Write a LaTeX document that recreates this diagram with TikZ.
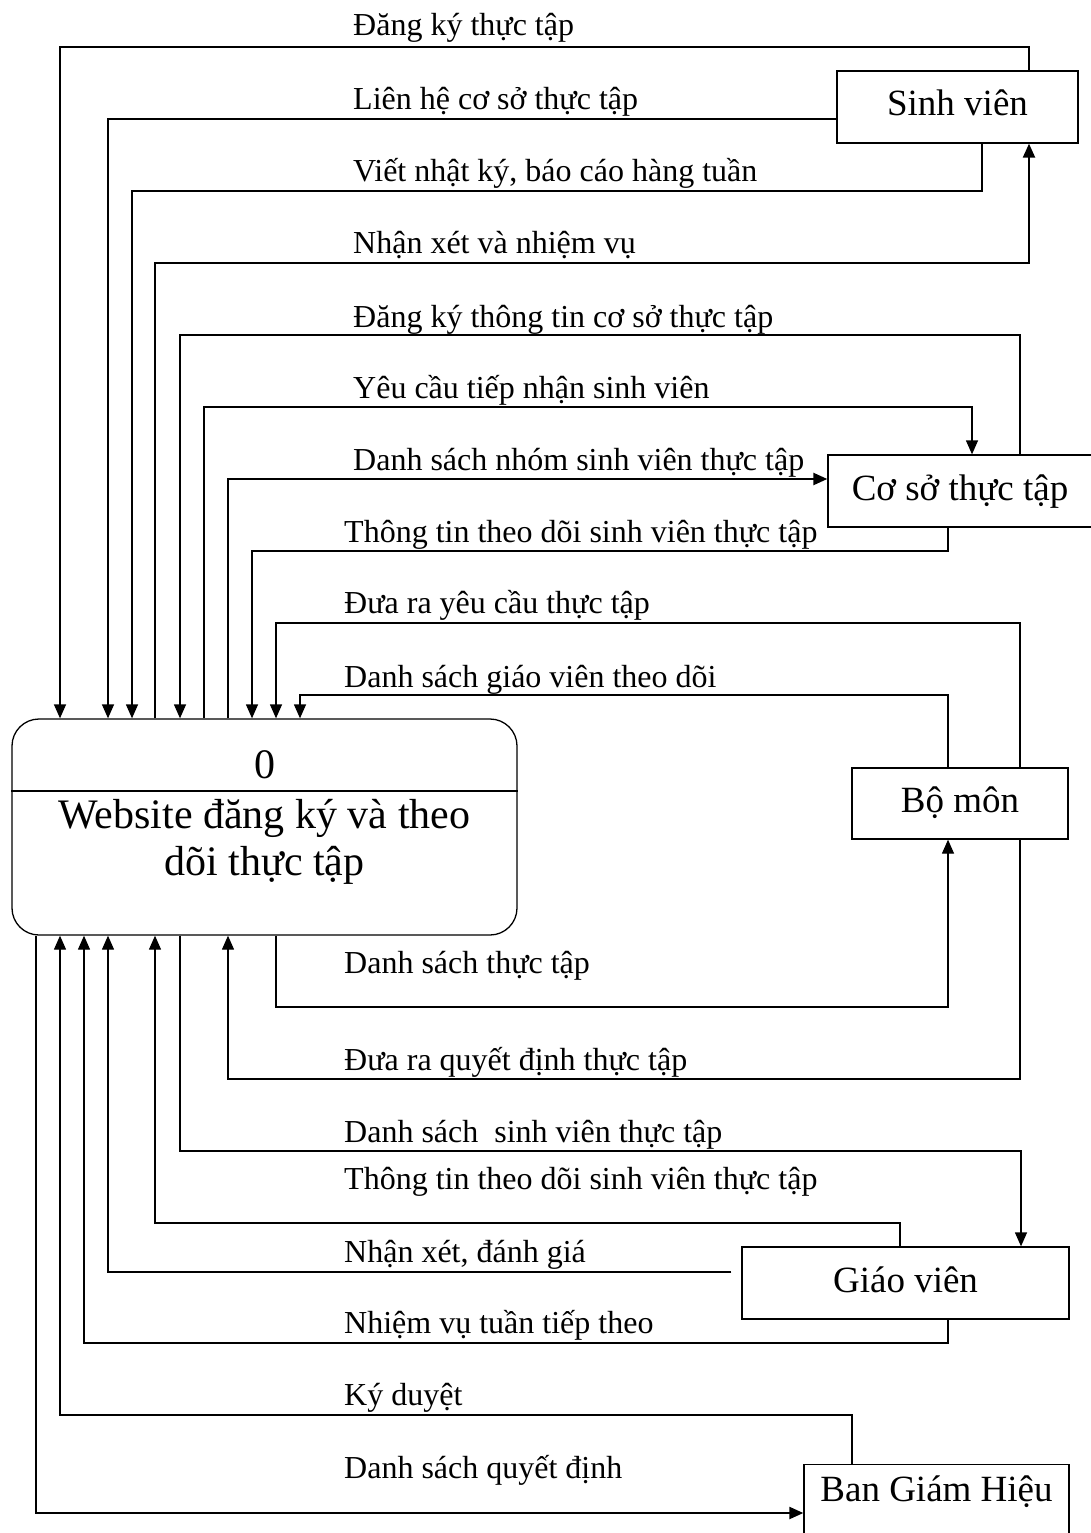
\documentclass[tikz,border=0pt]{standalone}
\usepackage{fontspec}
\setmainfont{Liberation Serif}
\usetikzlibrary{arrows.meta,calc}
\begin{document}
\begin{tikzpicture}[x=1pt,y=-1pt,
  fl/.style={line width=1.3pt},
  fa/.style={fl,-{Triangle[length=14pt,width=12pt]}},
  fthick/.style={line width=2.2pt},
  lbl/.style={anchor=base west, inner sep=0pt, font=\fontsize{32}{38}\selectfont},
  ent/.style={draw, line width=1.3pt, rectangle, inner sep=0pt, minimum height=72pt,
              text height=26pt, text depth=8pt, font=\fontsize{37}{44}\selectfont},
  ptext/.style={anchor=base, inner sep=0pt, font=\fontsize{42}{47}\selectfont},
]
\clip (0,0) rectangle (1091,1533);
\useasboundingbox (0,0) rectangle (1091,1533);

% external entities
\node[ent, minimum width=241pt] (sv) at (957.5,107) {Sinh viên};
\node[ent, minimum width=264pt] (cs) at (960,491) {Cơ sở thực tập};
\node[ent, minimum width=216pt, minimum height=71pt] (bm) at (960,803.5) {Bộ môn};
\node[ent, minimum width=327pt] (gv) at (905.5,1283) {Giáo viên};
\node[ent, anchor=north, minimum width=265pt, minimum height=0pt,
      inner ysep=11pt, text height=26pt, text depth=34pt] (bgh) at (936.5,1464) {Ban Giám Hiệu};

% process
\node[draw, line width=1.3pt, rounded corners=27pt, minimum width=505pt,
      minimum height=216pt, inner sep=0pt] (proc) at (264.5,827) {};
\draw[fl] (proc.west |- 0,791) -- (proc.east |- 0,791);
\node[ptext] (pnum) at (264.5,778) {0};
\node[ptext] (pt1) at (264.5,828) {Website đăng ký và theo};
\node[ptext] (pt2) at (264.5,875) {dõi thực tập};

% --- Sinh vien flows
\draw[fa] (1029,0 |- sv.north) -- (1029,47) -| (60,0 |- proc.north);
\node[lbl] (l1) at (353,36) {Đăng ký thực tập};

\draw[fa] (sv.west |- 0,119) -- (108,119) -- (108,0 |- proc.north);
\node[lbl] (l2) at (353,110) {Liên hệ cơ sở thực tập};

\draw[fa] (982,0 |- sv.south) -- (982,191) -| (132,0 |- proc.north);
\node[lbl] (l3) at (353,182) {Viết nhật ký, báo cáo hàng tuần};

\draw[fa,fthick] (155,0 |- proc.north) -- (155,263) -| (1029,0 |- sv.south);
\node[lbl] (l4) at (353,253) {Nhận xét và nhiệm vụ};

% --- Co so thuc tap flows
\draw[fa] (1020,0 |- cs.north) -- (1020,335) -| (180,0 |- proc.north);
\node[lbl] (l5) at (353,327) {Đăng ký thông tin cơ sở thực tập};

\draw[fa] (204,0 |- proc.north) -- (204,407) -| (972,0 |- cs.north);
\node[lbl] (l6) at (353,398) {Yêu cầu tiếp nhận sinh viên};

\draw[fa,fthick] (228,0 |- proc.north) -- (228,479) -- (cs.west |- 0,479);
\node[lbl] (l7) at (353,470) {Danh sách nhóm sinh viên thực tập};

\draw[fa] (948,0 |- cs.south) -- (948,551) -| (252,0 |- proc.north);
\node[lbl] (l8) at (344,542) {Thông tin theo dõi sinh viên thực tập};

% --- Bo mon flows
\draw[fa] (1020,0 |- bm.north) -- (1020,623) -| (276,0 |- proc.north);
\node[lbl] (l9) at (344,613) {Đưa ra yêu cầu thực tập};

\draw[fa] (948,0 |- bm.north) -- (948,695) -| (300,0 |- proc.north);
\node[lbl] (l10) at (344,687) {Danh sách giáo viên theo dõi};

\draw[fa] (276,0 |- proc.south) -- (276,1007) -| (948,0 |- bm.south);
\node[lbl] (l11) at (344,973) {Danh sách thực tập};

\draw[fa] (1020,0 |- bm.south) -- (1020,1079) -| (228,0 |- proc.south);
\node[lbl] (l12) at (344,1070) {Đưa ra quyết định thực tập};

% --- Giao vien flows
\draw[fa] (180,0 |- proc.south) -- (180,1151) -| (1021,0 |- gv.north);
\node[lbl] (l13) at (344,1142) {Danh sách\ \ sinh viên thực tập};

\draw[fa] (900,0 |- gv.north) -- (900,1223) -| (155,0 |- proc.south);
\node[lbl] (l14) at (344,1189) {Thông tin theo dõi sinh viên thực tập};

\draw[fa, shorten <=10pt] (gv.west |- 0,1272) -- (108,1272) -- (108,0 |- proc.south);
\node[lbl] (l15) at (344,1262) {Nhận xét, đánh giá};

\draw[fa] (948,0 |- gv.south) -- (948,1343) -| (84,0 |- proc.south);
\node[lbl] (l16) at (344,1333) {Nhiệm vụ tuần tiếp theo};

% --- Ban Giam Hieu flows
\draw[fa] (852,0 |- bgh.north) -- (852,1415) -| (60,0 |- proc.south);
\node[lbl] (l17) at (344,1405) {Ký duyệt};

\draw[fa,fthick] (36,0 |- proc.south) -- (36,1513) -- (bgh.west |- 0,1513);
\node[lbl] (l18) at (344,1478) {Danh sách quyết định};
\end{tikzpicture}
\end{document}
